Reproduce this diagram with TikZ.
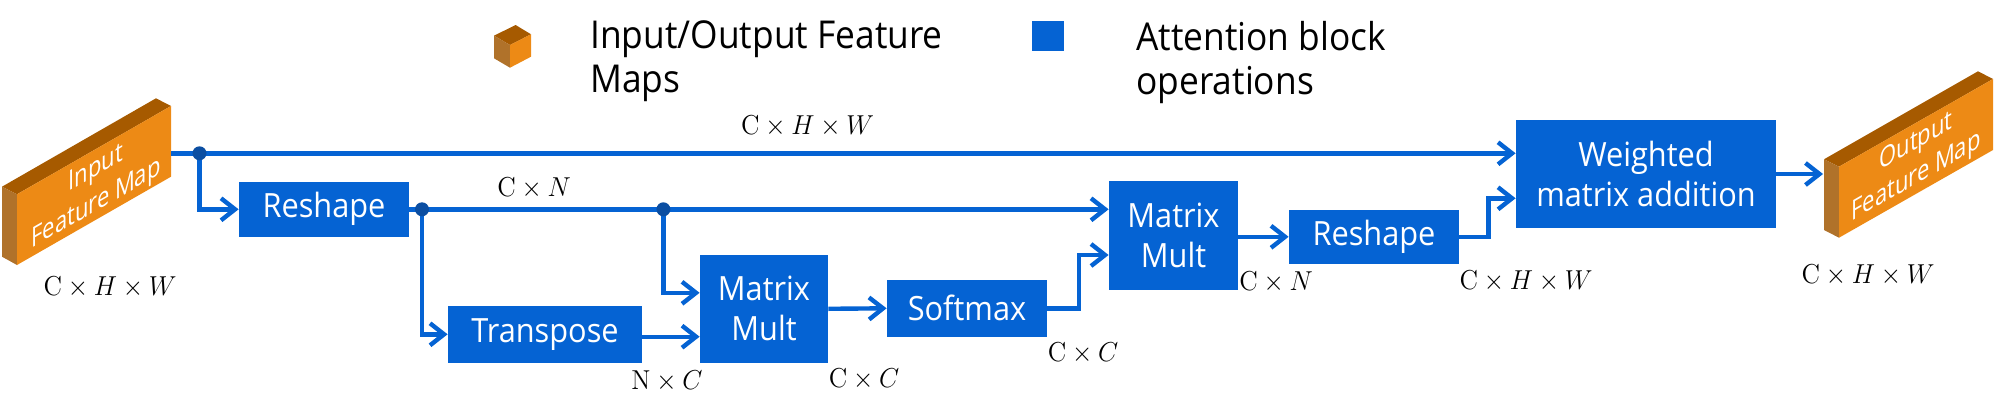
\documentclass[tikz,border=0pt]{standalone}
\usepackage[no-math]{fontspec}
\setmainfont[FakeStretch=0.92]{Open Sans}
\usetikzlibrary{arrows.meta}
\definecolor{opblue}{HTML}{0563D3}
\definecolor{dotblue}{HTML}{0B4EA2}
\definecolor{mapfront}{HTML}{ED8A15}
\definecolor{maptop}{HTML}{A65A00}
\definecolor{mapside}{HTML}{B0722A}
\begin{document}
\begin{tikzpicture}[x=0.5pt, y=-0.5pt,
  main/.style = {fill=opblue, text=white, inner sep=0pt, align=center, font=\fontsize{16.7}{20}\selectfont},
  flow/.style = {draw=opblue, line width=2.2pt, -{Straight Barb[length=7pt, width=11pt, line width=2.2pt]}},
  split/.style = {circle, fill=dotblue, inner sep=0pt, minimum size=7pt},
  dim/.style = {font=\fontsize{14.4}{16}\selectfont, xscale=.905, yscale=.95, transform shape},
  legend/.style = {anchor=base west, inner sep=0pt, align=left, font=\fontsize{19.2}{22}\selectfont},
  maptext/.style = {text=white, align=center, font=\fontsize{13.8}{17.5}\selectfont, cm={.866,.5,0,1,(0,0)}, transform shape}]
\useasboundingbox (0,0) rectangle (1995,407);

% feature maps
\fill[maptop] (2,186.7) -- (156,98.3) -- (171,106) -- (17,194.3) -- cycle;
\fill[mapside] (2,186.7) -- (17,194.3) -- (17,265) -- (2,256.7) -- cycle;
\fill[mapfront] (17,194.3) -- (171,106) -- (171,176.7) -- (17,265) -- cycle;
\node[maptext] (inmap) at (96,187) {Input\\Feature Map};
\fill[maptop] (1824,159.3) -- (1978,71.3) -- (1993,79) -- (1839,166.7) -- cycle;
\fill[mapside] (1824,159.3) -- (1839,166.7) -- (1839,237.7) -- (1824,230) -- cycle;
\fill[mapfront] (1839,166.7) -- (1993,79) -- (1993,150) -- (1839,237.7) -- cycle;
\node[maptext] (outmap) at (1916,160) {Output\\Feature Map};

% legend
\fill[maptop] (515.6,25) -- (531,34.3) -- (510,45) -- (494,35.7) -- cycle;
\fill[mapside] (494,35.7) -- (510,45) -- (510,67.7) -- (494,58.3) -- cycle;
\fill[mapfront] (510,45) -- (531,34.3) -- (531,56.7) -- (510,67.7) -- cycle;
\node[legend] (legendmap) at (590,92.7) {Input/Output Feature\\Maps};
\node[fill=opblue, minimum width=16pt, minimum height=15pt, inner sep=0pt] (legendbox) at (1048,36) {};
\node[legend] (legendop) at (1136,94) {Attention block\\operations};

% blocks
\node[main, minimum width=85pt, minimum height=27.4pt] (reshape1) at (324,209.3) {Reshape};
\node[main, minimum width=97pt, minimum height=28.4pt] (transpose) at (545,334.3) {Transpose};
\node[main, minimum width=64pt, minimum height=53.8pt] (matrix1) at (764,308.8) {Matrix\\Mult};
\node[main, minimum width=80pt, minimum height=28.4pt] (softmax) at (967,308.3) {Softmax};
\node[main, minimum width=64.5pt, minimum height=54.4pt] (matrix2) at (1173.5,235.3) {Matrix\\Mult};
\node[main, minimum width=85pt, minimum height=26.9pt] (reshape2) at (1374,236.8) {Reshape};
\node[main, minimum width=130pt, minimum height=54pt] (weighted) at (1646,174) {Weighted\\matrix addition};

\coordinate (inport) at (171,153.3);
\coordinate (outport) at (1823,174);
\coordinate (split1) at (199.5,153.3);
\coordinate (split2) at (422,209.3);
\coordinate (split3) at (663.4,209.3);

% connectors
\draw[flow] (inport) -- (inport -| weighted.west);
\draw[flow] (split1) |- (reshape1.west);
\draw[flow] (reshape1.east) -- (reshape1.east -| matrix2.west);
\draw[flow] (split2) |- (transpose.west);
\draw[flow] (split3) |- ([yshift=8pt]matrix1.west);
\draw[flow] ([yshift=-1.2pt]transpose.east) -- ([yshift=-1.2pt]transpose.east -| matrix1.west);
\draw[flow] (matrix1.east) -- (softmax.west);
\draw[flow] (softmax.east) -- ++(31.6,0) |- ([yshift=-9.85pt]matrix2.west);
\draw[flow] (matrix2.east |- reshape2.west) -- (reshape2.west);
\draw[flow] (reshape2.east) -- ++(29,0) |- ([yshift=-12.15pt]weighted.west);
\draw[flow] (weighted.east) -- (outport);

\node[split] (dot1) at (split1) {};
\node[split] (dot2) at (split2) {};
\node[split] (dot3) at (split3) {};

% sizes
\node[dim] (dimin) at (110,287) {$\mathrm{C}\times H\times W$};
\node[dim] (dimtop) at (807.5,126) {$\mathrm{C}\times H\times W$};
\node[dim] (dimreshape) at (534,188) {$\mathrm{C}\times N$};
\node[dim] (dimtranspose) at (667,381.7) {$\mathrm{N}\times C$};
\node[dim] (dimmult) at (864,379) {$\mathrm{C}\times C$};
\node[dim] (dimsoftmax) at (1083,353) {$\mathrm{C}\times C$};
\node[dim] (dimmatrix) at (1276,282.7) {$\mathrm{C}\times N$};
\node[dim] (dimback) at (1526,281) {$\mathrm{C}\times H\times W$};
\node[dim] (dimout) at (1868,275.7) {$\mathrm{C}\times H\times W$};
\end{tikzpicture}
\end{document}
